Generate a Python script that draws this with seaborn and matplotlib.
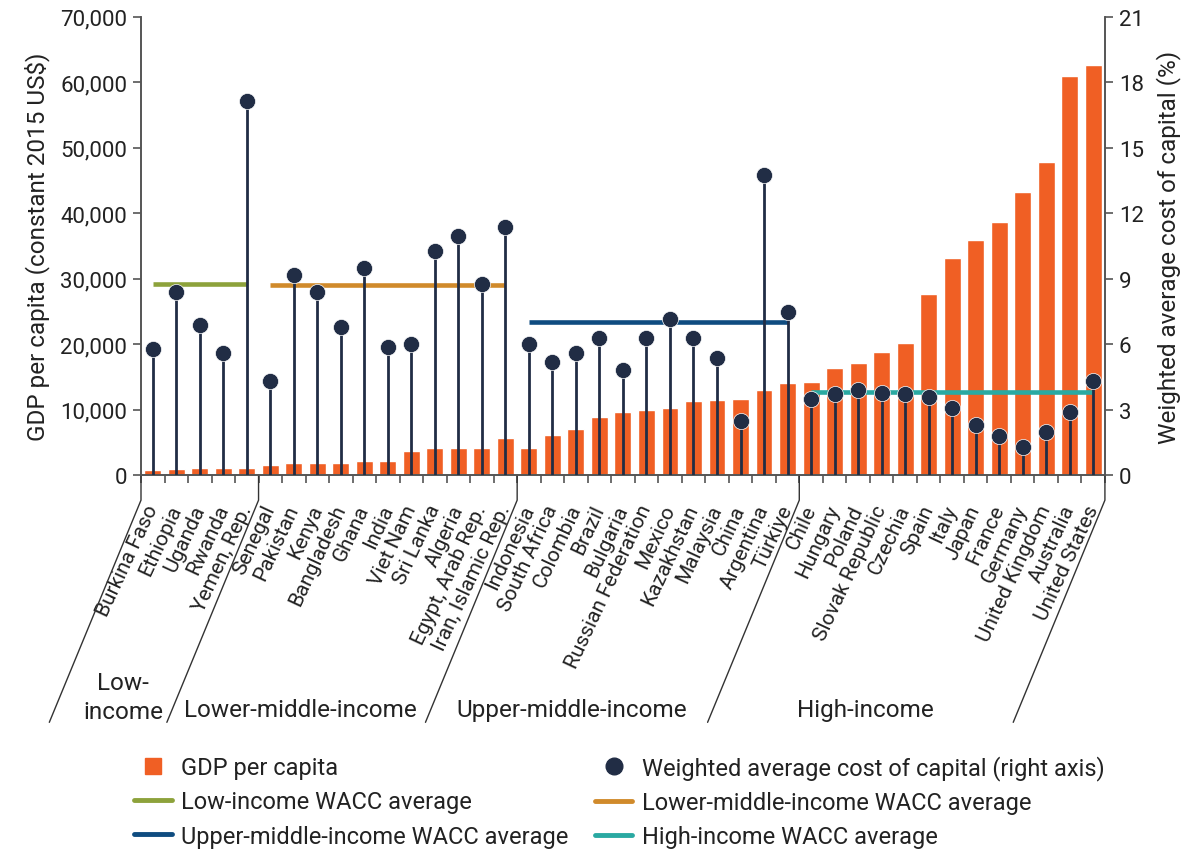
#!/usr/bin/env python3
"""GDP per capita (bars) vs weighted average cost of capital (lollipops), grouped by income level."""

import matplotlib

matplotlib.use("Agg")

import matplotlib.pyplot as plt
import matplotlib.transforms as mtransforms
import numpy as np
import pandas as pd
import seaborn as sns
from matplotlib.lines import Line2D
from matplotlib.ticker import FuncFormatter


COUNTRIES = [
    "Burkina Faso", "Ethiopia", "Uganda", "Rwanda", "Yemen, Rep.",
    "Senegal", "Pakistan", "Kenya", "Bangladesh", "Ghana", "India", "Viet Nam",
    "Sri Lanka", "Algeria", "Egypt, Arab Rep.", "Iran, Islamic Rep.",
    "Indonesia", "South Africa", "Colombia", "Brazil", "Bulgaria",
    "Russian Federation", "Mexico", "Kazakhstan", "Malaysia", "China",
    "Argentina", "Türkiye",
    "Chile", "Hungary", "Poland", "Slovak Republic", "Czechia", "Spain", "Italy",
    "Japan", "France", "Germany", "United Kingdom", "Australia", "United States",
]

GDP_PER_CAPITA = [
    720, 870, 1000, 1000, 1000,
    1480, 1780, 1780, 1780, 2090, 2090, 3610, 4070, 4070, 4070, 5590,
    4070, 6050, 6970, 8800, 9560, 10000, 10170, 11230, 11390, 11540, 12910, 13980,
    14280, 16420, 17180, 18860, 20230, 27700, 33180, 35930, 38670, 43250, 47820,
    60930, 62600,
]

WACC = [
    5.79, 8.39, 6.86, 5.58, 17.15,
    4.30, 9.18, 8.39, 6.79, 9.48, 5.88, 5.99, 10.27, 10.96, 8.77, 11.37,
    5.99, 5.18, 5.60, 6.28, 4.79, 6.28, 7.16, 6.28, 5.38, 2.49, 13.75, 7.47,
    3.47, 3.69, 3.89, 3.78, 3.69, 3.58, 3.08, 2.29, 1.80, 1.30, 1.98, 2.90, 4.30,
]

GROUP_NAMES = ["Low-\nincome", "Lower-middle-income", "Upper-middle-income", "High-income"]
GROUP_SIZES = [5, 11, 12, 13]
GROUP_WACC_AVG = [8.77, 8.73, 7.01, 3.80]
GROUP_LEGEND = [
    "Low-income WACC average",
    "Lower-middle-income WACC average",
    "Upper-middle-income WACC average",
    "High-income WACC average",
]

BAR_COLOR = "#F05F24"
DOT_COLOR = "#212D45"
GROUP_COLORS = ["#8DA23B", "#D08A2B", "#0F4C80", "#2AA9A2"]
TEXT_COLOR = "#222222"
SPINE_COLOR = "#555555"


def main() -> None:
    sns.set_style("ticks")
    plt.rcParams["font.family"] = ["Roboto", "DejaVu Sans"]

    df = pd.DataFrame({"country": COUNTRIES, "gdp": GDP_PER_CAPITA, "wacc": WACC})
    pos = np.arange(len(df))

    fig = plt.figure(figsize=(12.01, 8.53), dpi=100)
    ax = fig.add_axes([0.1174, 0.442, 0.8026, 0.537])

    sns.barplot(data=df, x="country", y="gdp", color=BAR_COLOR, saturation=1,
                width=0.72, ax=ax)
    ax2 = ax.twinx()

    # group averages
    start = 0
    for size, avg, col in zip(GROUP_SIZES, GROUP_WACC_AVG, GROUP_COLORS):
        ax2.hlines(avg, start, start + size - 1, color=col, lw=3.3, zorder=2)
        start += size

    # lollipops
    ax2.vlines(pos, 0, df["wacc"], color=DOT_COLOR, lw=2.0, zorder=3)
    sns.scatterplot(x=pos, y=df["wacc"], color=DOT_COLOR, s=135, edgecolor="white",
                    linewidth=0.5, zorder=4, legend=False, ax=ax2)

    ax.set_xlim(-0.5, len(df) - 0.5)
    ax.set_ylim(0, 70000)
    ax2.set_ylim(0, 21)
    ax.set_yticks(range(0, 70001, 10000))
    ax.yaxis.set_major_formatter(FuncFormatter(lambda v, _: f"{int(v):,}"))
    ax2.set_yticks(range(0, 22, 3))

    for a in (ax, ax2):
        a.spines["top"].set_visible(False)
        for s in ("left", "right", "bottom"):
            a.spines[s].set_color(SPINE_COLOR)
            a.spines[s].set_linewidth(1.2)
        a.tick_params(axis="y", length=6, width=1.2, color=SPINE_COLOR,
                      labelsize=16, labelcolor=TEXT_COLOR, pad=4)

    ax.set_xlabel("")
    ax.set_xticks(pos)
    ax.set_xticklabels(COUNTRIES, rotation=65, ha="right", va="center",
                       rotation_mode="anchor", fontsize=15, color=TEXT_COLOR)
    ax.tick_params(axis="x", which="major", length=0, pad=22)
    ax.set_xticks(np.arange(-0.5, len(df), 1), minor=True)
    ax.tick_params(axis="x", which="minor", length=6, width=1.2, color=SPINE_COLOR)

    ax.set_ylabel("GDP per capita (constant 2015 US$)", fontsize=17.5, color=TEXT_COLOR,
                  labelpad=7)
    ax2.set_ylabel("Weighted average cost of capital (%)", fontsize=17.5,
                   color=TEXT_COLOR, labelpad=9)

    # income group separators and labels below the axis
    trans = mtransforms.blended_transform_factory(ax.transData, ax.transAxes)
    bounds = np.concatenate([[0], np.cumsum(GROUP_SIZES)]) - 0.5
    for b in bounds:
        ax.plot([b, b, b - 3.9], [0, -0.055, -0.54], transform=trans, clip_on=False,
                color="#333333", lw=1.0)
    for i, name in enumerate(GROUP_NAMES):
        mid = (bounds[i] + bounds[i + 1]) / 2
        y = -0.485 if "\n" in name else -0.513
        ax.text(mid - 3.7 * (0.88 if "\n" in name else 1.0), y, name, transform=trans,
                ha="center", va="center", fontsize=17.5, color=TEXT_COLOR,
                linespacing=1.3)

    handles = [
        Line2D([], [], marker="s", color=BAR_COLOR, linestyle="none", markersize=11.5),
        Line2D([], [], color=GROUP_COLORS[0], lw=3.5),
        Line2D([], [], color=GROUP_COLORS[2], lw=3.5),
        Line2D([], [], marker="o", color=DOT_COLOR, linestyle="none", markersize=12),
        Line2D([], [], color=GROUP_COLORS[1], lw=3.5),
        Line2D([], [], color=GROUP_COLORS[3], lw=3.5),
    ]
    labels = [
        "GDP per capita", GROUP_LEGEND[0], GROUP_LEGEND[2],
        "Weighted average cost of capital (right axis)", GROUP_LEGEND[1], GROUP_LEGEND[3],
    ]
    fig.legend(handles, labels, ncol=2, loc="upper left", bbox_to_anchor=(0.094, 0.139),
               frameon=False, fontsize=17, handlelength=1.6, handletextpad=0.4,
               labelspacing=0.48, columnspacing=1.1, labelcolor=TEXT_COLOR)

    fig.savefig("out.png", dpi=100)


if __name__ == "__main__":
    main()
